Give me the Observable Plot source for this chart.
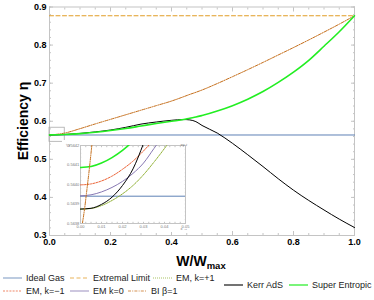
<!DOCTYPE html>
<html><head><meta charset="utf-8">
<script src="https://cdn.jsdelivr.net/npm/d3@7"></script>
<script src="https://cdn.jsdelivr.net/npm/@observablehq/plot@0.6"></script>
<style>
body{margin:0;background:#fff;font-family:"Liberation Sans",Arial,sans-serif;}
#wrap{position:relative;width:374px;height:300px;overflow:hidden;background:#fff;}
#main{position:absolute;left:0;top:0;}
#inset{position:absolute;left:62px;top:140px;background:#fff;}
#legend{position:absolute;left:0;top:0;width:374px;height:300px;font-size:9px;color:#222;pointer-events:none;}
.item{position:absolute;display:flex;align-items:center;white-space:nowrap;height:12px;}
.item svg{margin-right:4px;}
</style></head><body>
<div id="wrap"><div id="main"></div><div id="inset"></div><div id="legend"></div></div>
<script>
// ---------- data ----------
const seriesNames = ["Ideal Gas","Extremal Limit","EM, k=+1","EM, k=\u22121","EM k=0","BI \u03b2=1","Kerr AdS","Super Entropic"];
const seriesColors = ["#5e81b5","#e19c24","#8fb032","#eb6235","#8778b3","#c56e1a","#000000","#22ee22"];
const seriesDash = ["none","4,2.5","1,1","2,1.2","none","3,1.2,1,1.2","none","none"];
const seriesWidth = [1,1,1,1,1,1,1,1.6];

// main plot values
const idealGasLevel = 0.5639;
const extremalLevel = 0.877;
const mainX = [0,0.05,0.1,0.15,0.2,0.25,0.3,0.35,0.4,0.44,0.46,0.48,0.5,0.55,0.6,0.65,0.7,0.75,0.8,0.85,0.9,0.95,1.0];
const kerrMain = [0.5639,0.5652,0.568,0.572,0.577,0.584,0.5925,0.598,0.6025,0.6045,0.6035,0.599,0.589,0.569,0.542,0.512,0.481,0.449,0.419,0.392,0.367,0.343,0.321];
const superMain = [0.5641,0.5652,0.5675,0.571,0.5755,0.581,0.5875,0.594,0.600,0.6045,0.608,0.611,0.615,0.627,0.641,0.658,0.678,0.702,0.729,0.760,0.797,0.835,0.877];
const biMain = [0.5639,0.569,0.5805,0.593,0.605,0.617,0.629,0.641,0.653,0.6645,0.6705,0.676,0.682,0.699,0.717,0.7355,0.7545,0.774,0.7935,0.8135,0.834,0.855,0.877];
const zoomBox = [{x1:0, x2:0.05, y1:0.546, y2:0.583}];

// inset values
const insetX = [0,0.005,0.01,0.015,0.02,0.025,0.03,0.035,0.04,0.045];
const superInset = [0.564087,0.564092,0.564110,0.564138,0.564175,0.564222,null,null,null,null];
const kerrInset = [0.563874,0.563878,0.563898,0.563935,0.563995,0.564080,0.564210,null,null,null];
const emMinusInset = [0.563998,0.564003,0.564018,0.564043,0.564078,0.564120,0.564172,0.564232,null,null];
const emZeroInset = [0.563942,0.563947,0.563962,0.563985,0.564016,0.564057,0.564110,0.564185,0.564260,null];
const emPlusInset = [0.563874,0.563877,0.563892,0.563918,0.563952,0.563995,0.564050,0.564115,0.564185,0.564260];
const biInsetX = [0.0009,0.002,0.003,0.004,0.005,0.0056];
const biInsetY = [0.5638,0.56388,0.56397,0.56406,0.56416,0.56422];
const idealGasInset = 0.56394;

const mainXTicks = [0,0.2,0.4,0.6,0.8,1.0];
const mainYTicks = [0.3,0.4,0.5,0.6,0.7,0.8,0.9];
const insetXTicks = [0,0.01,0.02,0.03,0.04,0.05];
const insetYTicks = [0.5638,0.5639,0.564,0.5641,0.5642];

// ---------- helpers ----------
const toPts = (xs, ys) => xs.map((x,i)=>({x, y: ys[i]})).filter(d=>d.y!=null);
const lineOf = (pts, i, extra={}) => Plot.line(pts, {x:"x", y:"y", stroke: seriesColors[i], strokeWidth: seriesWidth[i], strokeDasharray: seriesDash[i] === "none" ? null : seriesDash[i], curve:"monotone-x", ...extra});
const range = (a,b,s) => d3.range(Math.round((b-a)/s)+1).map(i=>+(a+i*s).toFixed(6));
const frameColor = "#c4c4c4";
const flat = (lvl, x1) => [{x:0,y:lvl},{x:x1,y:lvl}];

// ---------- main plot ----------
const main = Plot.plot({
  width:374, height:270, marginLeft:49, marginRight:20, marginTop:6.5, marginBottom:35,
  style:{fontFamily:"'Liberation Sans', Arial, sans-serif", fontSize:"9px", fontWeight:"bold", color:"#000", background:"transparent", overflow:"visible"},
  x:{domain:[0,1]}, y:{domain:[0.3,0.9]},
  marks:[
    Plot.frame({stroke:frameColor}),
    Plot.axisX(range(0,1,0.05), {anchor:"bottom", tickSize:-2, text:null, stroke:frameColor}),
    Plot.axisX(range(0,1,0.05), {anchor:"top", tickSize:-2, text:null, stroke:frameColor}),
    Plot.axisX(mainXTicks, {anchor:"bottom", tickSize:-4, text:null, stroke:frameColor}),
    Plot.axisX(mainXTicks, {anchor:"top", tickSize:-4, text:null, stroke:frameColor}),
    Plot.axisY(range(0.3,0.9,0.02), {anchor:"left", tickSize:-2, text:null, stroke:frameColor}),
    Plot.axisY(range(0.3,0.9,0.02), {anchor:"right", tickSize:-2, text:null, stroke:frameColor}),
    Plot.axisY(mainYTicks, {anchor:"left", tickSize:-4, text:null, stroke:frameColor}),
    Plot.axisY(mainYTicks, {anchor:"right", tickSize:-4, text:null, stroke:frameColor}),
    Plot.axisX(mainXTicks, {anchor:"bottom", tickSize:0, tickPadding:3, tickFormat:d3.format(".1f"), label:null}),
    Plot.axisY(mainYTicks, {anchor:"left", tickSize:0, tickPadding:3, tickFormat:d3.format(".1f"), label:null}),
    Plot.rect(zoomBox, {x1:"x1", x2:"x2", y1:"y1", y2:"y2", stroke:"#aaa", fill:"none", strokeWidth:0.8}),
    lineOf(flat(idealGasLevel, 1), 0),
    lineOf(flat(extremalLevel, 1), 1),
    lineOf(toPts(mainX, biMain), 5),
    lineOf(toPts(mainX, kerrMain), 6),
    lineOf(toPts(mainX, superMain), 7)
  ]
});
document.getElementById("main").append(main);
const msvg = d3.select(main);
msvg.append("text").attr("transform","translate(28,121) rotate(-90)").attr("text-anchor","middle")
  .style("font-size","14px").style("font-weight","bold").style("font-family","'Liberation Sans', Arial, sans-serif")
  .text("Efficiency \u03b7");
const xl = msvg.append("text").attr("x",201).attr("y",266).attr("text-anchor","middle")
  .style("font-size","14px").style("font-weight","bold").style("font-family","'Liberation Sans', Arial, sans-serif");
xl.append("tspan").text("W/W");
xl.append("tspan").attr("dy",3).style("font-size","9.5px").text("max");

// ---------- inset ----------
const inset = Plot.plot({
  width:128, height:92, marginLeft:18, marginRight:5, marginTop:5, marginBottom:9,
  style:{fontFamily:"'Liberation Sans', Arial, sans-serif", fontSize:"4px", color:"#777", background:"#fff"},
  x:{domain:[0,0.05]}, y:{domain:[0.5638,0.5642]},
  marks:[
    Plot.frame({stroke:frameColor}),
    Plot.axisX(range(0,0.05,0.0025), {anchor:"bottom", tickSize:-1.2, text:null, stroke:frameColor}),
    Plot.axisX(range(0,0.05,0.0025), {anchor:"top", tickSize:-1.2, text:null, stroke:frameColor}),
    Plot.axisY(range(0.5638,0.5642,0.00002), {anchor:"left", tickSize:-1.2, text:null, stroke:frameColor}),
    Plot.axisY(range(0.5638,0.5642,0.00002), {anchor:"right", tickSize:-1.2, text:null, stroke:frameColor}),
    Plot.axisX(insetXTicks, {anchor:"bottom", tickSize:0, tickPadding:1.2, tickFormat:d3.format(".2f"), label:null}),
    Plot.axisY(insetYTicks, {anchor:"left", tickSize:0, tickPadding:1.2, tickFormat:d3.format(".4f"), label:null}),
    lineOf(flat(idealGasInset, 0.05), 0, {clip:true}),
    lineOf(toPts(insetX, emPlusInset), 2, {clip:true}),
    lineOf(toPts(insetX, emZeroInset), 4, {clip:true}),
    lineOf(toPts(insetX, emMinusInset), 3, {clip:true}),
    lineOf(toPts(insetX, kerrInset), 6, {clip:true}),
    lineOf(toPts(insetX, superInset), 7, {clip:true}),
    lineOf(toPts(biInsetX, biInsetY), 5, {clip:true})
  ]
});
document.getElementById("inset").append(inset);

// ---------- legend ----------
const legendPos = [[3,272],[70,272],[153,272],[3,285],[70,285],[128,285],[224,279],[289,279]];
const leg = document.getElementById("legend");
seriesNames.forEach((name,i)=>{
  const div = document.createElement("div");
  div.className = "item";
  div.style.left = legendPos[i][0]+"px";
  div.style.top = legendPos[i][1]+"px";
  const dash = seriesDash[i] === "none" ? "" : `stroke-dasharray="${seriesDash[i]}"`;
  div.innerHTML = `<svg width="19" height="4"><line x1="0" y1="2" x2="19" y2="2" stroke="${seriesColors[i]}" stroke-opacity="${i===6?1:0.75}" stroke-width="${i===7?1.6:1.1}" ${dash}/></svg><span>${name}</span>`;
  leg.append(div);
});
</script>
</body></html>
